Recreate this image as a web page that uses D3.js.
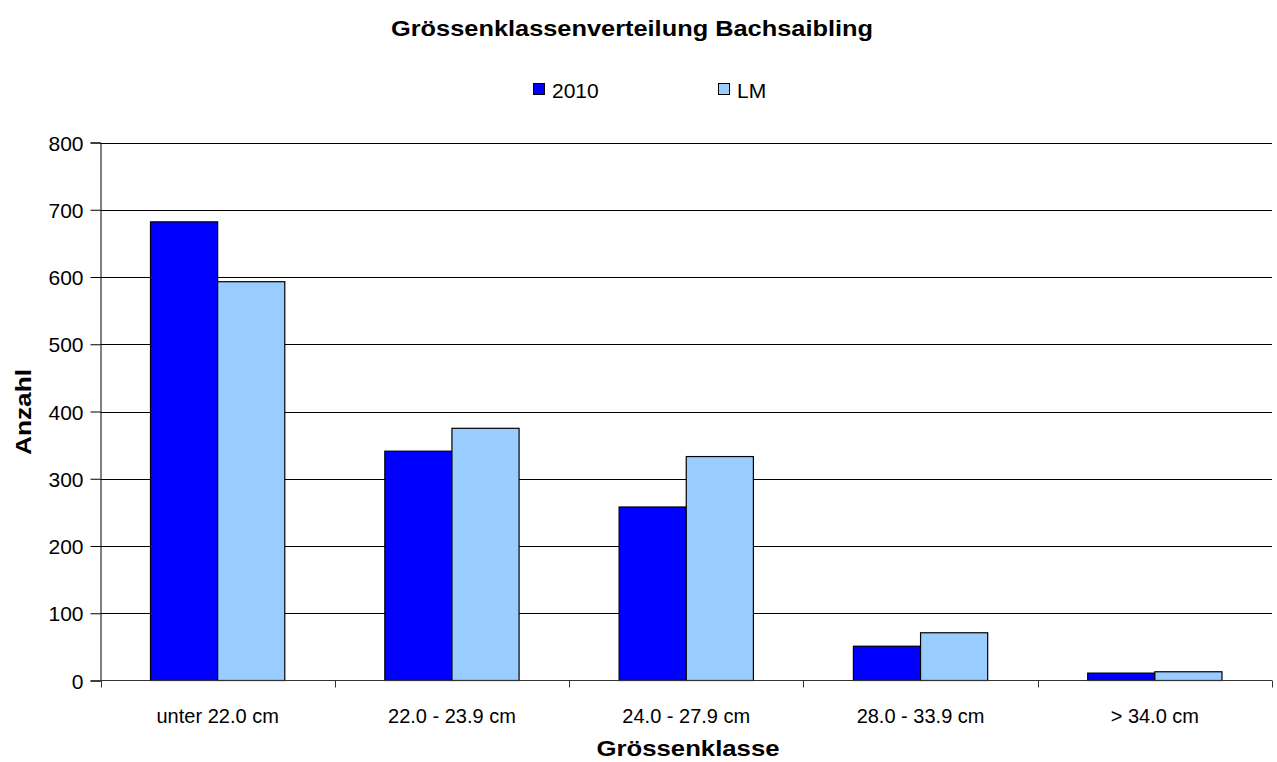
<!DOCTYPE html>
<html><head><meta charset="utf-8">
<script src="https://cdn.jsdelivr.net/npm/d3@7/dist/d3.min.js"></script>
<style>body{margin:0;background:#fff;font-family:"Liberation Sans",Arial,sans-serif;}</style>
</head><body>
<svg id="c" width="1277" height="762"></svg>
<script>
const categories = ["unter 22.0 cm","22.0 - 23.9 cm","24.0 - 27.9 cm","28.0 - 33.9 cm","> 34.0 cm"];
const seriesNames = ["2010","LM"];
const values2010 = [682, 341, 258, 51, 11];
const valuesLM = [593, 375, 333, 71, 13];
const yTicks = [0,100,200,300,400,500,600,700,800];
const colors = ["#0000FF","#99CCFF"];

const svg = d3.select("#c");
const m = {l:100.5, r:1272, t:142.5, b:680.5};
const x = d3.scaleBand().domain(categories).range([m.l, m.r]).paddingInner(0).paddingOuter(0);
const xs = d3.scaleBand().domain(seriesNames).range([0, x.bandwidth()]).paddingInner(0).paddingOuter(0.745);
const y = d3.scaleLinear().domain([0,800]).range([m.b, m.t]);

// gridlines
svg.append("g").selectAll("line").data(yTicks.filter(d=>d>0)).join("line")
  .attr("x1", m.l).attr("x2", m.r)
  .attr("y1", d=>Math.round(y(d))+0.5).attr("y2", d=>Math.round(y(d))+0.5)
  .attr("stroke","#000").attr("stroke-width",1);

const data = categories.map((c,i)=>({c, v:[values2010[i], valuesLM[i]]}));
const g = svg.append("g");
data.forEach(d=>{
  seriesNames.forEach((s,j)=>{
    g.append("rect")
      .attr("x", x(d.c)+xs(s))
      .attr("y", y(d.v[j]))
      .attr("width", xs.bandwidth())
      .attr("height", y(0)-y(d.v[j]))
      .attr("fill", colors[j]).attr("stroke","#000").attr("stroke-width",1.2);
  });
});

// y axis
const ya = svg.append("g").attr("transform",`translate(${m.l},0)`)
  .call(d3.axisLeft(y).tickValues(yTicks).tickSize(10).tickPadding(7).tickFormat(d3.format("d")));
ya.select(".domain").attr("stroke","#000");
ya.selectAll(".tick line").attr("stroke","#000");
ya.selectAll("text").attr("font-family","Liberation Sans, Arial, sans-serif").attr("font-size",21).attr("fill","#000").attr("dy","0.36em");

// x axis
const xa = svg.append("g").attr("transform",`translate(0,${m.b})`);
xa.append("line").attr("x1",m.l).attr("x2",m.r).attr("y1",0).attr("y2",0).attr("stroke","#333").attr("stroke-width",1.2);
const bounds = categories.map(c=>x(c)).concat([x(categories[categories.length-1])+x.bandwidth()]);
xa.selectAll("line.t").data(bounds).join("line").attr("class","t")
  .attr("x1",d=>Math.round(d)+0.5).attr("x2",d=>Math.round(d)+0.5).attr("y1",0).attr("y2",7).attr("stroke","#333");
xa.selectAll("text").data(categories).join("text")
  .attr("x", d=>x(d)+x.bandwidth()/2).attr("y", 42)
  .attr("text-anchor","middle").attr("font-size",20).attr("fill","#000").text(d=>d);

// titles
svg.append("text").attr("x",632).attr("y",36).attr("text-anchor","middle")
  .attr("font-size",22).attr("font-weight","bold")
  .attr("textLength",482).attr("lengthAdjust","spacingAndGlyphs")
  .text("Grössenklassenverteilung Bachsaibling");
svg.append("text").attr("x",688).attr("y",756).attr("text-anchor","middle")
  .attr("font-size",22).attr("font-weight","bold")
  .attr("textLength",183).attr("lengthAdjust","spacingAndGlyphs")
  .text("Grössenklasse");
svg.append("text").attr("transform","translate(31,412) rotate(-90)").attr("text-anchor","middle")
  .attr("font-size",22).attr("font-weight","bold")
  .attr("textLength",86).attr("lengthAdjust","spacingAndGlyphs")
  .text("Anzahl");

// legend
const lg = svg.append("g");
const lx = [533, 718];
seriesNames.forEach((s,j)=>{
  lg.append("rect").attr("x",lx[j]+0.5).attr("y",83.5).attr("width",11).attr("height",11)
    .attr("fill",colors[j]).attr("stroke","#000").attr("stroke-width",1);
  lg.append("text").attr("x",lx[j]+19).attr("y",98).attr("font-size",21).text(s);
});
</script>
</body></html>
